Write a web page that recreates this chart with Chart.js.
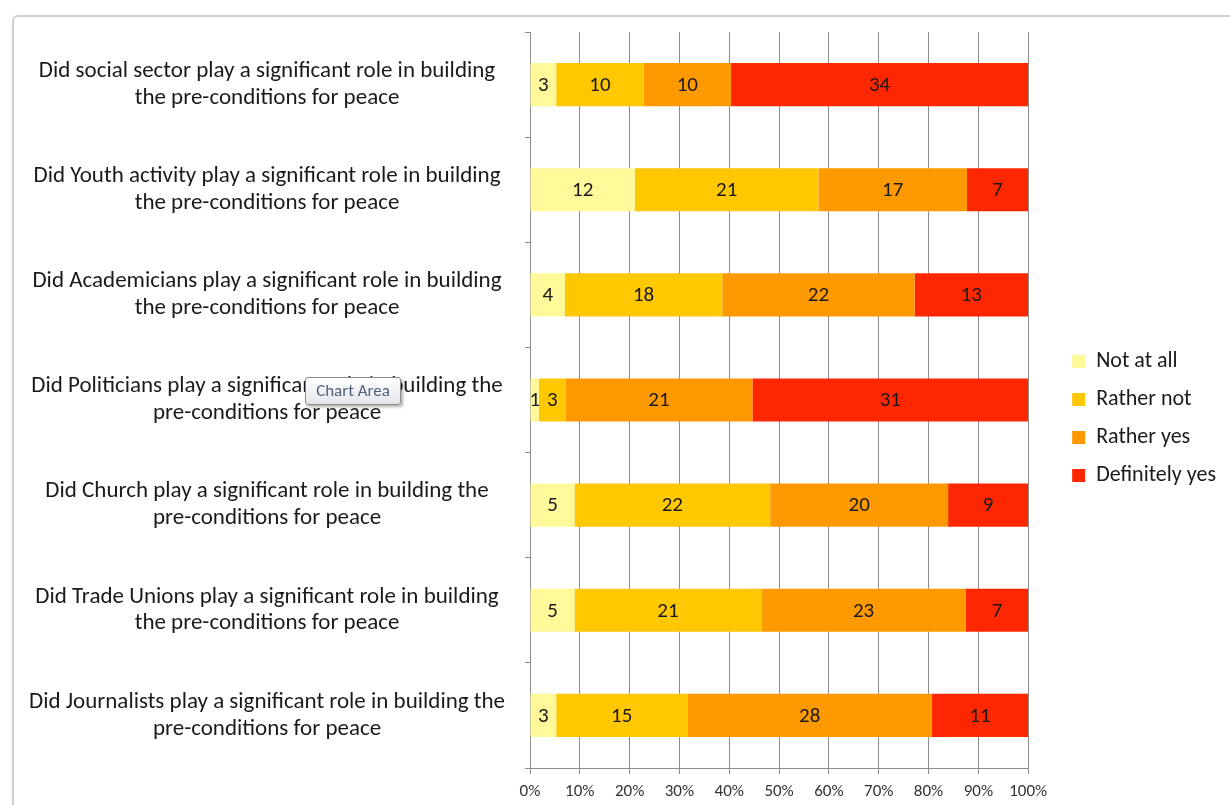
<!DOCTYPE html>
<html>
<head>
<meta charset="utf-8">
<script src="https://cdn.jsdelivr.net/npm/chart.js@4.4.1/dist/chart.umd.min.js"></script>
<style>
  html, body { margin: 0; padding: 0; background: #fff; }
  #wrap { position: relative; width: 1230px; height: 805px; overflow: hidden; }
  #frame {
    position: absolute; left: 12px; top: 15px; width: 1300px; height: 900px;
    border: 2px solid #cfcfcf; border-top-left-radius: 6px; box-sizing: border-box;
  }
  #chart-box { position: absolute; left: 0; top: 0; width: 1230px; height: 805px; }
  #tip {
    position: absolute; left: 305px; top: 377px; width: 96px; height: 28px;
    box-sizing: border-box; border: 1px solid #8a8a8a; border-radius: 3px;
    background: linear-gradient(#ffffff, #e4e6ec);
    box-shadow: 2px 2px 3px rgba(0,0,0,0.3);
    font: 17px Carlito, "Open Sans", sans-serif; color: #4f6078;
    text-align: center; line-height: 26px;
  }
</style>
</head>
<body>
<div id="wrap">
  <div id="frame"></div>
  <div id="chart-box"><canvas id="survey-chart" width="1230" height="805"></canvas></div>
  <div id="tip">Chart Area</div>
</div>
<script>
// Survey questions (two lines each, as in the original)
const questions = [
  ["Did social sector play a significant role in building", "the pre-conditions for peace"],
  ["Did Youth activity play a significant role in building", "the pre-conditions for peace"],
  ["Did Academicians play a significant role in building", "the pre-conditions for peace"],
  ["Did Politicians play a significant role in building the", "pre-conditions for peace"],
  ["Did Church play a significant role in building the", "pre-conditions for peace"],
  ["Did Trade Unions play a significant role in building", "the pre-conditions for peace"],
  ["Did Journalists play a significant role in building the", "pre-conditions for peace"]
];

// Answer counts per question
const notAtAll = [3, 12, 4, 1, 5, 5, 3];
const ratherNot = [10, 21, 18, 3, 22, 21, 15];
const ratherYes = [10, 17, 22, 21, 20, 23, 28];
const definitelyYes = [34, 7, 13, 31, 9, 7, 11];

const xTicks = ["0%", "10%", "20%", "30%", "40%", "50%", "60%", "70%", "80%", "90%", "100%"];

const totals = questions.map((q, i) => notAtAll[i] + ratherNot[i] + ratherYes[i] + definitelyYes[i]);
const toShare = counts => counts.map((c, i) => c / totals[i] * 100);

const fontFamily = "Carlito, 'Open Sans', sans-serif";

function series(label, counts, color) {
    return {
        label: label,
        data: toShare(counts),
        counts: counts,
        backgroundColor: color,
        borderWidth: 0,
        categoryPercentage: 1,
        barPercentage: 0.41
    };
}

// draws the raw count in the middle of each segment
const countLabels = {
    id: 'countLabels',
    afterDatasetsDraw(chart) {
        const ctx = chart.ctx;
        ctx.save();
        ctx.font = "21px " + fontFamily;
        ctx.fillStyle = "#1a1a1a";
        ctx.textAlign = "center";
        ctx.textBaseline = "middle";
        chart.data.datasets.forEach((ds, d) => {
            chart.getDatasetMeta(d).data.forEach((bar, i) => {
                const p = bar.getProps(['x', 'base', 'y'], true);
                ctx.fillText(ds.counts[i], (p.x + p.base) / 2, p.y + 1);
            });
        });
        ctx.restore();
    }
};

window.addEventListener('load', () => {
    const ctx = document.getElementById("survey-chart").getContext("2d");

    new Chart(ctx, {
        type: 'bar',
        data: {
            labels: questions,
            datasets: [
                series("Not at all", notAtAll, "#FFF99A"),
                series("Rather not", ratherNot, "#FFC800"),
                series("Rather yes", ratherYes, "#FF9900"),
                series("Definitely yes", definitelyYes, "#FF2700")
            ]
        },
        options: {
            indexAxis: 'y',
            responsive: false,
            animation: false,
            layout: { padding: { top: 32, bottom: 0, left: 20, right: 4 } },
            plugins: {
                tooltip: { enabled: false },
                legend: {
                    position: 'right',
                    labels: {
                        boxWidth: 13,
                        boxHeight: 13,
                        padding: 16,
                        color: "#1a1a1a",
                        font: { family: fontFamily, size: 22 }
                    }
                }
            },
            scales: {
                x: {
                    stacked: true,
                    min: 0,
                    max: 100,
                    ticks: {
                        stepSize: 10,
                        color: "#333",
                        padding: 8,
                        font: { family: fontFamily, size: 17 },
                        callback: (v, i) => xTicks[i]
                    },
                    grid: { color: "#8c8c8c", tickLength: 6 },
                    border: { color: "#8c8c8c" },
                    afterFit: scale => { scale.height = 37; }
                },
                y: {
                    stacked: true,
                    ticks: {
                        crossAlign: 'center',
                        color: "#1a1a1a",
                        padding: 20,
                        font: { family: fontFamily, size: 23, lineHeight: 1.17 }
                    },
                    grid: { offset: true, drawOnChartArea: false, color: "#8c8c8c", tickLength: 5 },
                    border: { color: "#8c8c8c" },
                    afterFit: scale => {
                        scale.width = 510;
                        scale.paddingTop = 0;
                        scale.paddingBottom = 0;
                    }
                },
                // empty gap between the bars and the legend
                gap: {
                    type: 'linear',
                    position: 'right',
                    grid: { display: false },
                    ticks: { display: false },
                    border: { display: false },
                    afterFit: scale => { scale.width = 28; }
                }
            }
        },
        plugins: [countLabels]
    });
});
</script>
</body>
</html>
